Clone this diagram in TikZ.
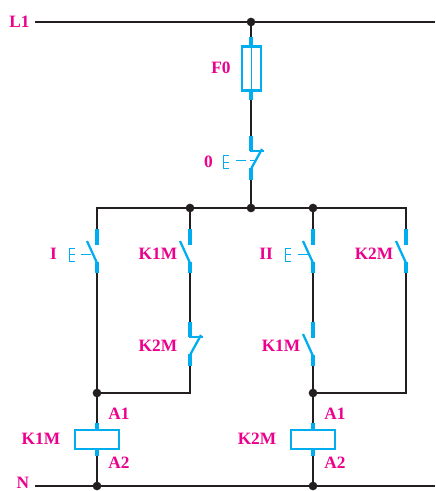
\documentclass[tikz,border=0pt]{standalone}
\usepackage{fontspec}
\setmainfont{Liberation Serif}
\definecolor{wirek}{HTML}{231F20}
\definecolor{symb}{HTML}{00AEEF}
\definecolor{lab}{HTML}{EC008C}
\tikzset{
  wire/.style={draw=wirek,line width=2.1pt},
  sym/.style={draw=symb,line width=2.3pt},
  arm/.style={draw=symb,line width=1.7pt},
  thin sym/.style={draw=symb,line width=0.75pt},
  dot/.style={circle,fill=wirek,draw=none,inner sep=0pt,minimum size=6.5pt},
  lbl/.style={text=lab,font=\bfseries\fontsize{13}{13}\selectfont,inner sep=0pt},
  coil/.style={draw=symb,line width=1.9pt,fill=white,inner sep=0pt,outer sep=0pt,minimum width=33pt,minimum height=14.5pt},
  fuse/.style={draw=symb,line width=1.7pt,inner sep=0pt,outer sep=0pt,minimum width=14.25pt,minimum height=33pt},
  nocontact/.pic={
    \coordinate (-top) at (0,0);
    \coordinate (-bot) at (0,44);
    \draw[sym] (0,0) -- (0,16);
    \draw[arm] (-10,12) -- (0,34);
    \draw[sym] (0,33) -- (0,44);
  },
  nccontact/.pic={
    \coordinate (-top) at (0,0);
    \coordinate (-bot) at (0,44);
    \draw[sym] (0,0) -- (0,15);
    \draw[arm] (-0.8,15) -- (13,15);
    \draw[arm] (11,13) -- (0,33);
    \draw[sym] (0,32) -- (0,44);
  },
  pushmark/.pic={
    \draw[thin sym] (5.5,-6.5) -- (0,-6.5) -- (0,6.5) -- (5.5,6.5) (0,0) -- (5.5,0);
  }
}
\begin{document}
\begin{tikzpicture}[x=0.75pt,y=-0.75pt]
\useasboundingbox (0,0) rectangle (435,491);
% junctions and line ends
\coordinate (l1a) at (35,22);   \coordinate (l1b) at (435,22);
\coordinate (na) at (35,486);   \coordinate (nb) at (435,486);
\coordinate (j0) at (251,22);
\coordinate (bl) at (97,208);   \coordinate (b1) at (190,208);
\coordinate (b2) at (251,208);  \coordinate (b3) at (313,208);
\coordinate (br) at (406,208);
\coordinate (ml) at (97,393);   \coordinate (mlr) at (190,393);
\coordinate (mr) at (313,393);  \coordinate (mrr) at (406,393);
\coordinate (nl) at (97,486);   \coordinate (nr) at (313,486);
% symbols
\coordinate (f0top) at (251,37);
\coordinate (f0bot) at (251,100);
\node[fuse] (f0) at (251.5,68.5) {};
\draw[sym] (f0top) -- (f0top |- f0.north) (f0bot |- f0.south) -- (f0bot);
\draw[thin sym] (f0top |- f0.north) -- (f0bot |- f0.south);
\pic (s0) at (251,136) {nccontact};
\pic (sI) at (97,229) {nocontact};
\pic (sK1) at (190,229) {nocontact};
\pic (sK2) at (190,322) {nccontact};
\pic (sII) at (313,229) {nocontact};
\pic (sK2b) at (406,229) {nocontact};
\pic (sK1b) at (313,322) {nocontact};
\pic at (223,162.5) {pushmark};
\pic at (69,254.5) {pushmark};
\pic at (285,254.5) {pushmark};
\draw[thin sym] (236,161) -- (246,161) (250,161) -- (256,161);
\draw[thin sym] (81,254) -- (91,254);
\draw[thin sym] (298,254) -- (308,254);
\node[coil] (c1) at (97,439.5) {};
\node[coil] (c2) at (313,439.5) {};
\coordinate (c1t) at (97,423); \coordinate (c1b) at (97,456);
\coordinate (c2t) at (313,423); \coordinate (c2b) at (313,456);
\draw[sym] (c1t) -- (c1.north) (c1.south) -- (c1b);
\draw[sym] (c2t) -- (c2.north) (c2.south) -- (c2b);
% wires
\draw[wire] (l1a) -- (l1b);
\draw[wire] (na) -- (nb);
\draw[wire] (j0) -- (f0top);
\draw[wire] (f0bot) -- (s0-top);
\draw[wire] (s0-bot) -- (b2);
\draw[wire,line join=miter] (sI-top) -- (bl) -- (br) -- (sK2b-top);
\draw[wire] (b1) -- (sK1-top);
\draw[wire] (sK1-bot) -- (sK2-top);
\draw[wire] (sK2-bot) -- (mlr);
\draw[wire] (b3) -- (sII-top);
\draw[wire] (sII-bot) -- (sK1b-top);
\draw[wire] (sK1b-bot) -- (mr);
\draw[wire] (sI-bot) -- (ml);
\draw[wire] (ml) -- (mlr) -- (sK2-bot);
\draw[wire] (mr) -- (mrr) -- (sK2b-bot);
\draw[wire] (ml) -- (c1t);
\draw[wire] (c1b) -- (nl);
\draw[wire] (mr) -- (c2t);
\draw[wire] (c2b) -- (nr);
% dots
\foreach \c/\n in {j0/d1,b1/d2,b2/d3,b3/d4,ml/d5,mr/d6,nl/d7,nr/d8}
  \node[dot] (\n) at (\c) {};
% labels
\node[lbl] (tL) at (19.5,22) {L1};
\node[lbl] (tN) at (23,483) {N};
\node[lbl] (tF) at (221,68) {F0};
\node[lbl] (t0) at (208.5,162) {0};
\node[lbl] (tI) at (53.5,254) {I};
\node[lbl] (tK1) at (158,254) {K1M};
\node[lbl] (tK2) at (158,346) {K2M};
\node[lbl] (tII) at (266,254) {II};
\node[lbl] (tK2b) at (374,254) {K2M};
\node[lbl] (tK1b) at (281,346) {K1M};
\node[lbl] (tA1) at (119,414) {A1};
\node[lbl] (tA2) at (119,463) {A2};
\node[lbl] (tC1) at (41,439) {K1M};
\node[lbl] (tC2) at (257,439) {K2M};
\node[lbl] (tA1b) at (335,414) {A1};
\node[lbl] (tA2b) at (335,463) {A2};
\end{tikzpicture}
\end{document}
